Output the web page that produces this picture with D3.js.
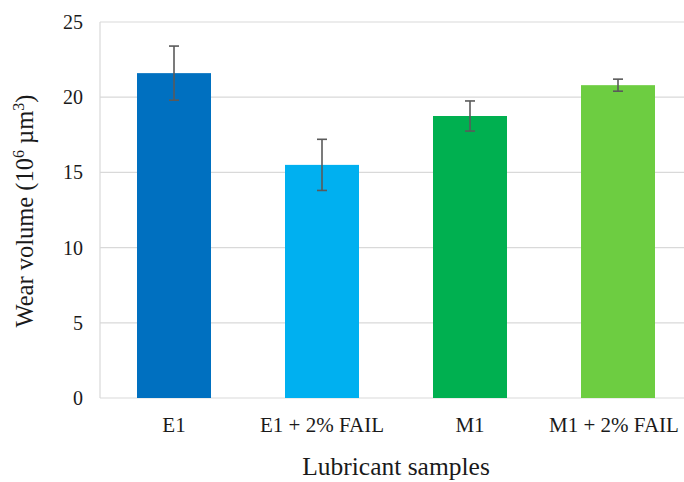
<!DOCTYPE html>
<html>
<head>
<meta charset="utf-8">
<script src="https://cdnjs.cloudflare.com/ajax/libs/d3/7.8.5/d3.min.js"></script>
<style>
  body { margin: 0; background: #fff; }
  text { font-family: "Liberation Serif", "Times New Roman", serif; fill: #1a1a1a; }
</style>
</head>
<body>
<div id="chart"></div>
<script>
// data
var categories = ["E1", "E1 + 2% FAIL", "M1", "M1 + 2% FAIL"];
var wearVolume = [21.6, 15.5, 18.75, 20.8];
var wearError = [1.8, 1.7, 1.0, 0.4];
var barColors = ["#0070C0", "#00B0F0", "#00B050", "#6DCD41"];
var yTicks = [0, 5, 10, 15, 20, 25];

var chartW = 684, chartH = 482;
var plotLeft = 100, plotRight = 692, plotTop = 22, plotBottom = 398;

var svg = d3.select("#chart").append("svg")
  .attr("width", chartW)
  .attr("height", chartH);

var x = d3.scaleBand()
  .domain(categories)
  .range([plotLeft, plotRight])
  .paddingInner(0.5)
  .paddingOuter(0.25);

var y = d3.scaleLinear()
  .domain([0, 25])
  .range([plotBottom, plotTop]);

// gridlines
svg.append("g")
  .selectAll("line")
  .data(yTicks)
  .enter().append("line")
  .attr("x1", plotLeft)
  .attr("x2", chartW)
  .attr("y1", function(d) { return y(d); })
  .attr("y2", function(d) { return y(d); })
  .attr("stroke", "#d9d9d9")
  .attr("stroke-width", 1.2);

// left axis line
svg.append("line")
  .attr("x1", plotLeft).attr("x2", plotLeft)
  .attr("y1", plotTop).attr("y2", plotBottom)
  .attr("stroke", "#d9d9d9")
  .attr("stroke-width", 1.2);

// y axis labels
var yAxis = d3.axisLeft(y).tickValues(yTicks).tickSize(0).tickPadding(17);
var yg = svg.append("g")
  .attr("transform", "translate(" + plotLeft + ",0)")
  .call(yAxis);
yg.select(".domain").remove();
yg.selectAll("text")
  .style("font-family", "'Liberation Serif', serif")
  .style("font-size", "20px")
  .attr("fill", "#1a1a1a");

// bars
var rows = categories.map(function(c, i) {
  return { cat: c, v: wearVolume[i], e: wearError[i], color: barColors[i] };
});

svg.append("g")
  .selectAll("rect")
  .data(rows)
  .enter().append("rect")
  .attr("x", function(d) { return x(d.cat); })
  .attr("y", function(d) { return y(d.v); })
  .attr("width", x.bandwidth())
  .attr("height", function(d) { return y(0) - y(d.v); })
  .attr("fill", function(d) { return d.color; });

// error bars
var eb = svg.append("g")
  .attr("stroke", "#5a5a5a")
  .attr("stroke-width", 1.6);
rows.forEach(function(d) {
  var cx = x(d.cat) + x.bandwidth() / 2;
  var y1 = y(d.v + d.e), y2 = y(d.v - d.e);
  eb.append("line").attr("x1", cx).attr("x2", cx).attr("y1", y1).attr("y2", y2);
  eb.append("line").attr("x1", cx - 5).attr("x2", cx + 5).attr("y1", y1).attr("y2", y1);
  eb.append("line").attr("x1", cx - 5).attr("x2", cx + 5).attr("y1", y2).attr("y2", y2);
});

// x labels
var xAxis = d3.axisBottom(x).tickSize(0).tickPadding(19);
var xg = svg.append("g")
  .attr("transform", "translate(0," + plotBottom + ")")
  .call(xAxis);
xg.select(".domain").remove();
xg.selectAll("text")
  .style("font-family", "'Liberation Serif', serif")
  .style("font-size", "21px")
  .attr("fill", "#1a1a1a")
  .attr("dx", function(d, i) { return i == categories.length - 1 ? -4 : 0; });

// axis titles
svg.append("text")
  .attr("x", 396)
  .attr("y", 475)
  .attr("text-anchor", "middle")
  .style("font-size", "25.5px")
  .text("Lubricant samples");

var yt = svg.append("text")
  .attr("transform", "translate(33,211) rotate(-90)")
  .attr("text-anchor", "middle")
  .style("font-size", "24.5px");
yt.append("tspan").text("Wear volume (10");
yt.append("tspan").attr("dy", -9).style("font-size", "16px").text("6");
yt.append("tspan").attr("dy", 9).text(" µm");
yt.append("tspan").attr("dy", -9).style("font-size", "16px").text("3");
yt.append("tspan").attr("dy", 9).text(")");
</script>
</body>
</html>
